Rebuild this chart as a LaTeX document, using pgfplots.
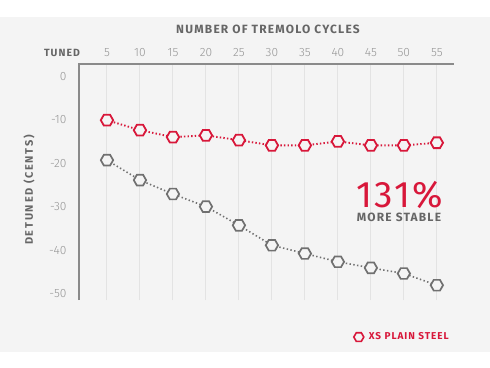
\documentclass[border=0pt]{standalone}
\usepackage{pgfplots}
\pgfplotsset{compat=1.18}
\usepackage{fontspec}
\setmainfont{Fira Sans}
\newfontfamily\spaced{Fira Sans}[LetterSpace=10]
\newfontfamily\wspaced{Fira Sans}[LetterSpace=16]
\newfontfamily\bigf{Fira Sans}[LetterSpace=6]
\newfontfamily\lightf{Fira Sans}[UprightFont=* Light]
\definecolor{bgc}{HTML}{F4F4F4}
\definecolor{gridc}{HTML}{E3E3E3}
\definecolor{axc}{HTML}{8A8A8A}
\definecolor{tickc}{HTML}{959595}
\definecolor{titc}{HTML}{666666}
\definecolor{redc}{HTML}{D8173A}
\definecolor{grayc}{HTML}{707070}
\pgfdeclareplotmark{hex}{%
 \pgfpathmoveto{\pgfpointpolar{0}{\pgfplotmarksize}}%
 \pgfpathlineto{\pgfpointpolar{60}{\pgfplotmarksize}}%
 \pgfpathlineto{\pgfpointpolar{120}{\pgfplotmarksize}}%
 \pgfpathlineto{\pgfpointpolar{180}{\pgfplotmarksize}}%
 \pgfpathlineto{\pgfpointpolar{240}{\pgfplotmarksize}}%
 \pgfpathlineto{\pgfpointpolar{300}{\pgfplotmarksize}}%
 \pgfpathclose
 \pgfusepathqfillstroke}
\begin{document}
\begin{tikzpicture}
\fill[bgc] (0bp,-17bp) rectangle (490bp,-352bp);
\path (0bp,0bp) rectangle (490bp,-368bp);
\begin{axis}[
  at={(79bp,-300bp)}, anchor=south west,
  scale only axis, width=375bp, height=236bp,
  xmin=0.76, xmax=57.6, ymin=-51.5, ymax=2.83,
  axis line style={draw=none},
  clip=false,
  major tick length=0pt,
  xtick={5,10,...,55},
  xticklabels={5,10,15,20,25,30,35,40,45,50,55},
  xticklabel pos=upper,
  ytick={0,-10,-20,-30,-40,-50},
  yticklabels={0,-10,-20,-30,-40,-50},
  tick label style={font=\lightf\fontsize{12}{14}\selectfont, text=tickc},
  xticklabel style={anchor=center, yshift=11bp},
  yticklabel style={anchor=east, xshift=-9bp},
  xmajorgrids,
  grid style={gridc, line width=1bp},
  legend style={at={(1.0,-0.157)}, anchor=east, draw=none, fill=none,
    font=\spaced\bfseries\fontsize{10}{12}\selectfont, text=redc,
    /tikz/every odd column/.append style={column sep=3bp}},
  legend cell align=left,
]
\draw[axc, line width=1.2bp] (rel axis cs:0,0) -- (rel axis cs:0,1) -- (rel axis cs:1,1);
\addlegendimage{only marks, mark=hex, mark size=5bp, redc, line width=1.6bp, fill=bgc}
\addlegendentry{XS PLAIN STEEL}
\addplot[forget plot, grayc, line width=1.6bp, dash pattern=on 1.4bp off 2.4bp,
  mark=hex, mark size=6.2bp, mark options={solid, fill=bgc, line width=1.7bp}]
  coordinates {(5,-19.3) (10,-23.9) (15,-27.1) (20,-30.0) (25,-34.3) (30,-38.9)
   (35,-40.8) (40,-42.7) (45,-44.1) (50,-45.4) (55,-48.1)};
\addplot[forget plot, redc, line width=1.9bp, dash pattern=on 1.4bp off 2.2bp,
  mark=hex, mark size=6.2bp, mark options={solid, fill=bgc, line width=1.8bp}]
  coordinates {(5,-10.1) (10,-12.4) (15,-14.0) (20,-13.6) (25,-14.7) (30,-15.9)
   (35,-15.9) (40,-15.0) (45,-15.9) (50,-15.9) (55,-15.3)};
\end{axis}
\node[text=titc, font=\spaced\bfseries\fontsize{12}{14}\selectfont] at (268bp,-29bp) {NUMBER OF TREMOLO CYCLES};
\node[text=titc, font=\spaced\bfseries\fontsize{10.5}{12}\selectfont] at (62bp,-53bp) {TUNED};
\node[text=titc, rotate=90, font=\wspaced\bfseries\fontsize{11}{12}\selectfont] at (29bp,-190bp) {DETUNED (CENTS)};
\node[text=redc, inner sep=0pt, anchor=base, text depth=0pt, font=\bigf\fontsize{37}{40}\selectfont] at (399.5bp,-207.3bp) {131\%};
\node[text=titc, inner sep=0pt, anchor=base, text height=8bp, font=\spaced\bfseries\fontsize{12}{14}\selectfont] at (399bp,-221.7bp) {MORE STABLE};
\end{tikzpicture}
\end{document}
